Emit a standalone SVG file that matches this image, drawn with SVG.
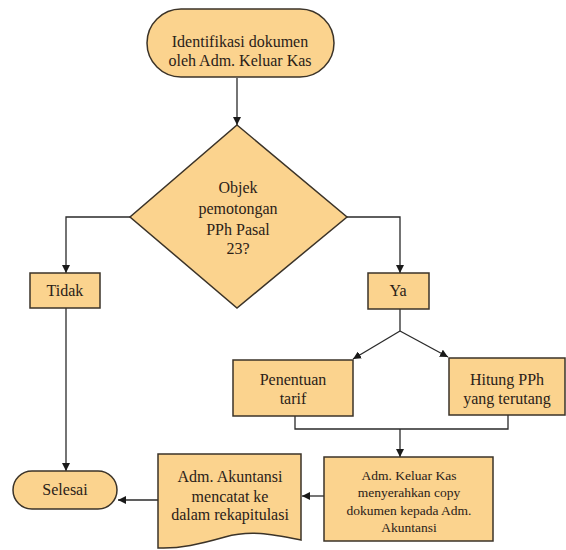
<svg xmlns="http://www.w3.org/2000/svg" width="566" height="550" viewBox="0 0 566 550">
<defs>
<style>
.s{fill:#FBD38E;stroke:#3b3328;stroke-width:1.5}
text{font-family:'Liberation Serif','Times New Roman','DejaVu Serif',serif;font-size:16px;fill:#2a2118;text-anchor:middle}
.sm{font-size:13.5px}
.c{fill:none;stroke:#2a2a2a;stroke-width:1.3}
</style>
<marker id="a" viewBox="0 0 10 10" refX="10" refY="5" markerWidth="8" markerHeight="8" orient="auto" markerUnits="userSpaceOnUse">
<path d="M0,0 L10,5 L0,10 z" fill="#1a1a1a"/>
</marker>
</defs>
<rect width="566" height="550" fill="#ffffff"/>
<g id="connectors">
<path class="c" d="M237,78 V125" marker-end="url(#a)"/>
<path class="c" d="M130,217 H66 V273" marker-end="url(#a)"/>
<path class="c" d="M347,217 H400 V273" marker-end="url(#a)"/>
<path class="c" d="M66,308 V471" marker-end="url(#a)"/>
<path class="c" d="M400,309 V331"/>
<path class="c" d="M400,331 L353,359" marker-end="url(#a)"/>
<path class="c" d="M400,331 L448,357" marker-end="url(#a)"/>
<path class="c" d="M295,416 V429 H508 V415"/>
<path class="c" d="M400,429 V457" marker-end="url(#a)"/>
<path class="c" d="M324,496 H302" marker-end="url(#a)"/>
<path class="c" d="M159,500 H118" marker-end="url(#a)"/>
</g>
<g id="start">
<rect class="s" x="147" y="9" width="187" height="68" rx="34"/>
<text x="240" y="47" font-family="Liberation Serif, serif">Identifikasi dokumen</text>
<text x="240" y="66" font-family="Liberation Serif, serif">oleh Adm. Keluar Kas</text>
</g>
<g id="decision">
<polygon class="s" points="237,125 347,217 237,308 130,217"/>
<text x="238" y="193">Objek</text>
<text x="238" y="214">pemotongan</text>
<text x="238" y="235">PPh Pasal</text>
<text x="238" y="254">23?</text>
</g>
<g id="tidak">
<rect class="s" x="30" y="273" width="70" height="35"/>
<text x="65" y="296">Tidak</text>
</g>
<g id="ya">
<rect class="s" x="368" y="273" width="61" height="36"/>
<text x="398" y="296">Ya</text>
</g>
<g id="penentuan">
<rect class="s" x="233" y="360" width="120" height="56"/>
<text x="293" y="385">Penentuan</text>
<text x="293" y="404">tarif</text>
</g>
<g id="hitung">
<rect class="s" x="449" y="358" width="116" height="57"/>
<text x="507" y="385">Hitung PPh</text>
<text x="507" y="404">yang terutang</text>
</g>
<g id="serah">
<rect class="s" x="324" y="457" width="169" height="84"/>
<text class="sm" x="409" y="480">Adm. Keluar Kas</text>
<text class="sm" x="409" y="497">menyerahkan copy</text>
<text class="sm" x="409" y="515">dokumen kepada Adm.</text>
<text class="sm" x="409" y="532">Akuntansi</text>
</g>
<g id="catat">
<path class="s" d="M158,454 H301 V540 C270,534 250,530 225,537 C200,544 180,549 158,548 Z"/>
<text x="230" y="482">Adm. Akuntansi</text>
<text x="230" y="502">mencatat ke</text>
<text x="230" y="520">dalam rekapitulasi</text>
</g>
<g id="selesai">
<rect class="s" x="13" y="471" width="104" height="38" rx="19"/>
<text x="65" y="495">Selesai</text>
</g>
</svg>
